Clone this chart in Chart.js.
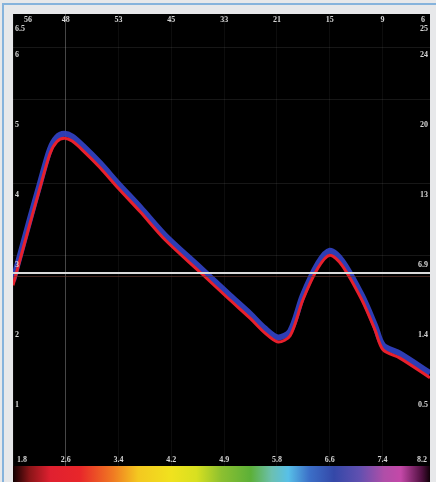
<!DOCTYPE html>
<html>
<head>
<meta charset="utf-8">
<title>Profile</title>
<script src="https://cdn.jsdelivr.net/npm/chart.js@4.4.1/dist/chart.umd.min.js"></script>
<style>
  body { margin: 0; background: #e7e8ea; width: 436px; height: 482px; overflow: hidden; position: relative; }
  #frame { position: absolute; left: 2px; top: 3px; width: 434px; height: 479px;
           border-left: 2px solid #86b3dc; border-top: 2px solid #86b3dc; }
  #wrap { position: absolute; left: 13px; top: 14px; width: 417px; height: 468px; background: #000; }
  #bar { position: absolute; left: 0; top: 452px; width: 417px; height: 16px;
         background: linear-gradient(to right, #100000 0%, #8a1518 4%, #e02030 9%, #e8262a 16%,
           #f07a22 24%, #f4c820 30%, #f0e21e 38%, #d8e020 44%, #8cc030 50%, #5cb038 57%,
           #6cc0b0 62%, #58c0e8 66%, #3c70c8 71%, #3448a8 77%, #6050b0 83%, #b04ea8 89%,
           #c448a8 93%, #501040 98%, #100008 100%); }
</style>
</head>
<body>
<div id="frame"></div>
<div id="wrap">
  <canvas id="myChart" width="417" height="468"></canvas>
  <div id="bar"></div>
</div>
<script>
// tick labels
var bottomLabels = ["1.8", "2.6", "3.4", "4.2", "4.9", "5.8", "6.6", "7.4", "8.2"];
var topLabels = ["56", "48", "53", "45", "33", "21", "15", "9", "6"];
var leftLabels = ["6.5", "6", "5", "4", "3", "2", "1"];
var leftValues = [6.5, 6, 5, 4, 3, 2, 1];
var rightLabels = ["25", "24", "20", "13", "6.9", "1.4", "0.5"];
var gridValues = [6.11, 5.36, 4.17, 3.13];

// curve (x in tick index units)
var curveX = [0, 0.32, 0.51, 0.70, 0.83, 0.97, 1.12, 1.36, 1.65, 1.99, 2.41, 2.88, 3.54, 4.11, 4.49, 4.77, 5.02, 5.25, 5.49, 5.78, 6.0, 6.23, 6.61, 6.86, 7.01, 7.33, 7.9];
var curveY = [2.71, 3.59, 4.10, 4.59, 4.76, 4.81, 4.77, 4.61, 4.39, 4.10, 3.76, 3.36, 2.90, 2.50, 2.24, 2.03, 1.90, 1.99, 2.50, 2.96, 3.14, 3.00, 2.50, 2.07, 1.79, 1.67, 1.39];
var refLine = 2.886;

var red = curveX.map(function (x, i) { return {x: x, y: curveY[i]}; });
var blue = curveX.map(function (x, i) { return {x: x, y: curveY[i] + 0.065}; });

var labelPlugin = {
    id: "labels",
    afterDraw: function (chart) {
        var c = chart.ctx, xs = chart.scales.x, ys = chart.scales.y;
        c.save();
        c.fillStyle = "#d6d6d6";
        c.font = "bold 8px 'Liberation Serif'";
        c.textBaseline = "middle";
        c.textAlign = "center";
        for (var i = 0; i < bottomLabels.length; i++) {
            var px = Math.min(Math.max(xs.getPixelForValue(i), 9), 409);
            c.fillText(bottomLabels[i], px, 446);
            var pt = Math.min(Math.max(xs.getPixelForValue(i), 15), 410);
            c.fillText(topLabels[i], pt, 6);
        }
        for (var j = 0; j < leftLabels.length; j++) {
            var py = Math.max(ys.getPixelForValue(leftValues[j]), 15);
            c.textAlign = "left";
            c.fillText(leftLabels[j], 2, py);
            c.textAlign = "right";
            c.fillText(rightLabels[j], 415, py);
        }
        c.restore();
    }
};

var ctx = document.getElementById("myChart").getContext("2d");
new Chart(ctx, {
    type: "line",
    data: {
        datasets: [
            {
                data: [{x: 0, y: refLine}, {x: 7.9, y: refLine}],
                borderColor: "#d9d9d9", borderWidth: 2, pointRadius: 0, order: 0
            },
            {
                data: [{x: 0, y: refLine - 0.05}, {x: 7.9, y: refLine - 0.05}],
                borderColor: "rgba(110,60,50,0.6)", borderWidth: 1, pointRadius: 0, order: 0
            },
            {
                data: red, borderColor: "#e8202c", borderWidth: 3, pointRadius: 0,
                tension: 0.3, order: 1
            },
            {
                data: blue, borderColor: "rgba(48,64,190,0.95)", borderWidth: 6, pointRadius: 0,
                tension: 0.3, order: 2
            }
        ]
    },
    options: {
        responsive: false,
        animation: false,
        layout: {padding: 0},
        plugins: {legend: {display: false}, tooltip: {enabled: false}},
        scales: {
            x: {
                type: "linear", min: 0, max: 7.9,
                afterBuildTicks: function (s) { s.ticks = [0, 1, 2, 3, 4, 5, 6, 7].map(function (v) { return {value: v}; }); },
                ticks: {display: false},
                border: {display: false},
                grid: {
                    drawTicks: false,
                    color: function (c) { return c.tick && c.tick.value === 1 ? "rgba(255,255,255,0.28)" : "rgba(255,255,255,0.05)"; }
                }
            },
            y: {
                type: "linear", min: -0.1, max: 6.586,
                afterBuildTicks: function (s) { s.ticks = gridValues.map(function (v) { return {value: v}; }); },
                ticks: {display: false},
                border: {display: false},
                grid: {drawTicks: false, color: "rgba(255,255,255,0.09)"}
            }
        }
    },
    plugins: [labelPlugin]
});
</script>
</body>
</html>
